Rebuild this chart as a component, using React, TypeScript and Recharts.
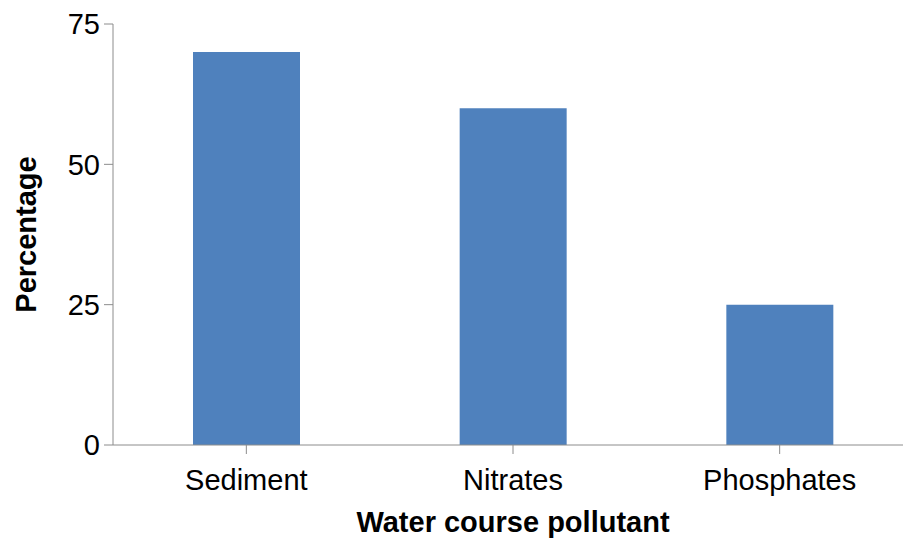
import { Bar, BarChart, XAxis, YAxis, Label } from 'recharts'

const pollutants = ['Sediment', 'Nitrates', 'Phosphates']
const percentages = [70, 60, 25]
const yTicks = [0, 25, 50, 75]

const data = pollutants.map((name, i) => ({ name, value: percentages[i] }))

const AXIS = '#8c8c8c'
const FONT = 'Liberation Sans, Arial, sans-serif'

export default function App() {
  return (
    <div style={{ position: 'fixed', top: 0, left: 0, width: 903, height: 539, overflow: 'hidden', background: '#fff' }}>
      <BarChart
        width={920}
        height={539}
        data={data}
        margin={{ top: 24, right: 7, bottom: 0, left: 0 }}
        barCategoryGap="30%"
      >
        <XAxis
          dataKey="name"
          height={94}
          stroke={AXIS}
          tickSize={9}
          tickMargin={15}
          tick={{ fontSize: 29, fill: '#000', fontFamily: FONT }}
          interval={0}
        >
          <Label
            value="Water course pollutant"
            position="insideBottom"
            offset={7}
            style={{ fontSize: 29, fontWeight: 'bold', fill: '#000', fontFamily: FONT }}
          />
        </XAxis>
        <YAxis
          width={113}
          domain={[0, 75]}
          ticks={yTicks}
          stroke={AXIS}
          tickSize={9}
          tickMargin={4}
          tick={{ fontSize: 29, fill: '#000', fontFamily: FONT }}
        >
          <Label
            value="Percentage"
            angle={-90}
            position="insideLeft"
            offset={26}
            style={{ fontSize: 29, fontWeight: 'bold', fill: '#000', fontFamily: FONT, textAnchor: 'middle' }}
          />
        </YAxis>
        <Bar dataKey="value" fill="#4f81bd" isAnimationActive={false} />
      </BarChart>
    </div>
  )
}
